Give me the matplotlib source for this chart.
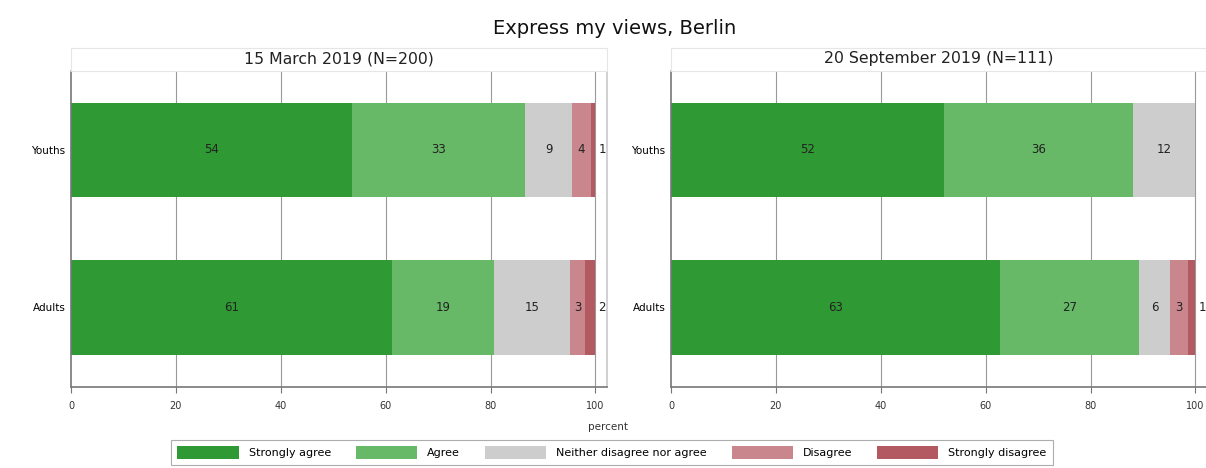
import matplotlib
matplotlib.use('Agg')
import matplotlib.pyplot as plt
from matplotlib.patches import Patch, Rectangle

# data
groups = ['Youths', 'Adults']
categories = ['Strongly agree', 'Agree', 'Neither disagree nor agree', 'Disagree', 'Strongly disagree']
panel_titles = ['15 March 2019 (N=200)', '20 September 2019 (N=111)']
# percent shares per group (Youths, Adults) for each panel
march_youths = [53.6, 33.0, 8.9, 3.6, 0.9]
march_adults = [61.2, 19.4, 14.6, 2.8, 2.0]
sept_youths = [52.0, 36.0, 12.0, 0.0, 0.0]
sept_adults = [62.7, 26.6, 5.9, 3.4, 1.4]
xticks = [0, 20, 40, 60, 80, 100]

COLORS = ['#2f9a33', '#67b867', '#cdcdcd', '#c9868c', '#b35962']

W, H = 1206, 468
fig = plt.figure(figsize=(W / 100, H / 100), dpi=100)
fig.patch.set_facecolor('white')


def px_axes(x0, y0, x1, y1):
    return fig.add_axes([x0 / W, 1 - y1 / H, (x1 - x0) / W, (y1 - y0) / H])


def draw_panel(ax, rows, title, x0, x1):
    ypos = [1, 0]
    for y, vals in zip(ypos, rows):
        left = 0
        for i, v in enumerate(vals):
            if v <= 0:
                continue
            ax.barh(y, v, left=left, height=0.6, color=COLORS[i], edgecolor='none', zorder=2)
            if i == len(vals) - 1:
                tx = 101.3
            else:
                tx = left + v / 2
            ax.text(tx, y, f'{v:.0f}', ha='center', va='center', fontsize=8.5, color='#222222', zorder=3)
            left += v
    ax.set_xlim(0, 102.2)
    ax.set_ylim(-0.505, 1.5)
    ax.set_yticks(ypos)
    ax.set_yticklabels(groups, fontsize=7.5)
    ax.tick_params(axis='y', length=0, pad=4)
    ax.set_xticks(xticks)
    ax.set_xticklabels([str(t) for t in xticks], fontsize=7)
    ax.tick_params(axis='x', length=4, color='#777777', pad=6, labelcolor='#333333')
    for t in xticks[1:]:
        ax.axvline(t, color='#999999', lw=0.8, zorder=1)
    for s in ['top', 'right']:
        ax.spines[s].set_color('#c8c8c8')
        ax.spines[s].set_linewidth(1.2)
    for s in ['left', 'bottom']:
        ax.spines[s].set_color('#777777')
        ax.spines[s].set_linewidth(1.2)
    # header strip
    fig.patches.append(Rectangle(((x0) / W, 1 - 71 / H), (x1 - x0) / W, 23 / H,
                                 transform=fig.transFigure, facecolor='white',
                                 edgecolor='#e6e6e6', lw=0.8))
    fig.text((x0 + x1) / 2 / W, 1 - 59 / H, title, ha='center', va='center', fontsize=11.3, color='#222222')


ax1 = px_axes(71, 71, 607, 387)
draw_panel(ax1, [march_youths, march_adults], panel_titles[0], 71, 607)
ax2 = px_axes(671, 71, 1207, 387)
draw_panel(ax2, [sept_youths, sept_adults], panel_titles[1], 671, 1207)

fig.text(615 / W, 1 - 28 / H, 'Express my views, Berlin', ha='center', va='center', fontsize=14, color='#111111')
fig.text(608 / W, 1 - 427 / H, 'percent', ha='center', va='center', fontsize=7.5, color='#333333')

handles = [Patch(facecolor=c, edgecolor='none') for c in COLORS]
leg = fig.legend(handles, categories, loc='center', bbox_to_anchor=(612 / W, 1 - 452.5 / H),
                 ncol=5, fontsize=8, handlelength=5.5, handleheight=1.35, columnspacing=2.25,
                 handletextpad=0.9, frameon=True, fancybox=False, borderpad=0.55)
leg.get_frame().set_edgecolor('#999999')
leg.get_frame().set_linewidth(0.8)

plt.savefig('out.png', dpi=100)
